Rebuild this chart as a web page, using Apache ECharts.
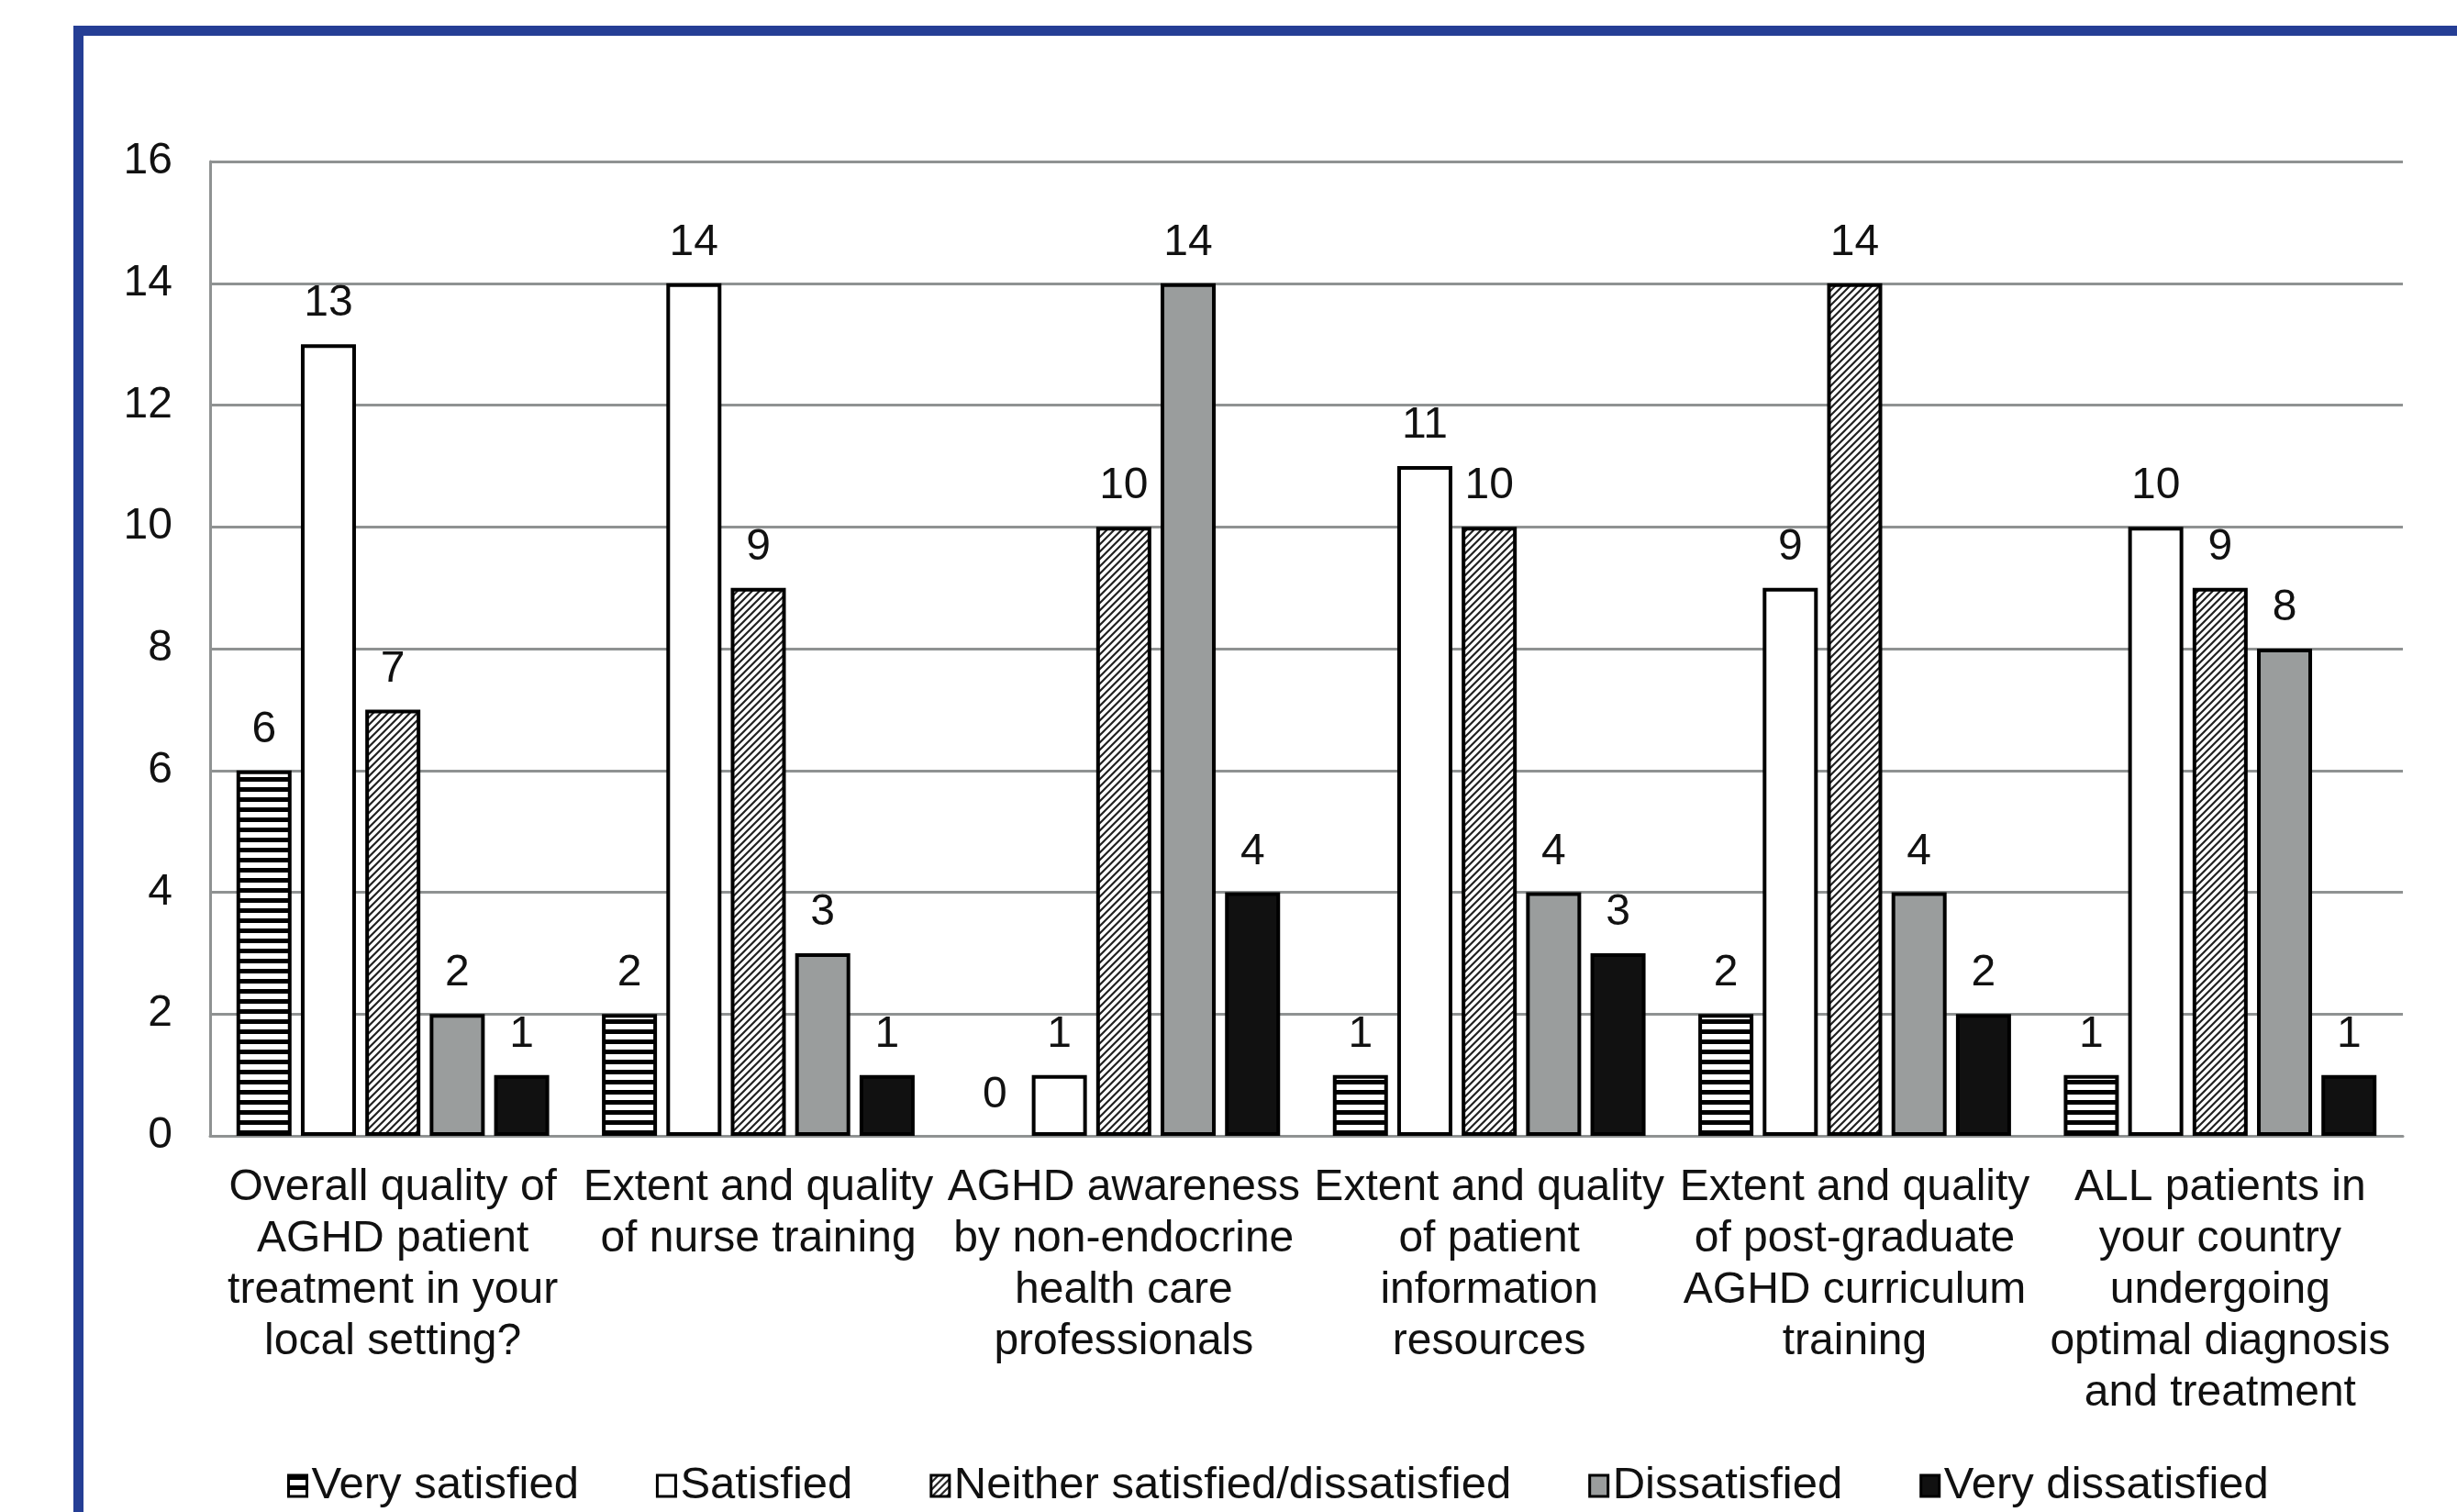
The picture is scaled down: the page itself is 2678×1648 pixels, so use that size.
<!DOCTYPE html>
<html>
<head>
<meta charset="utf-8">
<script src="https://cdn.jsdelivr.net/npm/echarts@6/dist/echarts.min.js"></script>
<style>
  html, body { margin: 0; padding: 0; background: #fff; }
  #chart { width: 2678px; height: 1648px; }
</style>
</head>
<body>
<div id="chart"></div>
<script>
const categories = [
  'Overall quality of\nAGHD patient\ntreatment in your\nlocal setting?',
  'Extent and quality\nof nurse training',
  'AGHD awareness\nby non-endocrine\nhealth care\nprofessionals',
  'Extent and quality\nof patient\ninformation\nresources',
  'Extent and quality\nof post-graduate\nAGHD curriculum\ntraining',
  'ALL patients in\nyour country\nundergoing\noptimal diagnosis\nand treatment'
]
const verySatisfied = [6, 2, 0, 1, 2, 1]
const satisfied = [13, 14, 1, 11, 9, 10]
const neither = [7, 9, 10, 10, 14, 9]
const dissatisfied = [2, 3, 14, 4, 4, 8]
const veryDissatisfied = [1, 1, 4, 3, 2, 1]
const yTicks = [0, 2, 4, 6, 8, 10, 12, 14, 16]

const FONT = '"Liberation Sans", Arial, sans-serif'
const FS = 48

// fill patterns
function stripes() {
  const c = document.createElement('canvas')
  c.width = 12; c.height = 11
  const g = c.getContext('2d')
  g.fillStyle = '#fff'; g.fillRect(0, 0, 12, 11)
  g.fillStyle = '#000'; g.fillRect(0, 0, 12, 5)
  return { image: c, repeat: 'repeat' }
}
function hatch() {
  const c = document.createElement('canvas')
  c.width = 8; c.height = 8
  const g = c.getContext('2d')
  g.fillStyle = '#fff'; g.fillRect(0, 0, 8, 8)
  g.strokeStyle = '#222'; g.lineWidth = 2.2
  g.beginPath()
  g.moveTo(-1, 9); g.lineTo(9, -1)
  g.moveTo(-5, 5); g.lineTo(5, -5)
  g.moveTo(3, 13); g.lineTo(13, 3)
  g.stroke()
  return { image: c, repeat: 'repeat' }
}

function bar(name, data, fill) {
  return {
    name: name,
    type: 'bar',
    // a zero bar has no outline in the original
    data: data.map(v => v === 0 ? { value: v, itemStyle: { borderWidth: 0 } } : v),
    barWidth: 60,
    barGap: '17%',
    itemStyle: { color: fill, borderColor: '#000', borderWidth: 4 },
    label: {
      show: true,
      position: 'top',
      distance: 20,
      fontSize: FS,
      fontFamily: FONT,
      color: '#111'
    }
  }
}

const chart = echarts.init(document.getElementById('chart'))
chart.setOption({
  animation: false,
  backgroundColor: '#fff',
  textStyle: { fontFamily: FONT },
  graphic: [
    { type: 'rect', left: 80, top: 28, shape: { width: 2598, height: 11 }, style: { fill: '#253e95' } },
    { type: 'rect', left: 80, top: 28, shape: { width: 11, height: 1620 }, style: { fill: '#253e95' } }
  ],
  grid: { left: 229, right: 59, top: 176, bottom: 410 },
  legend: {
    left: 308,
    top: 1590,
    icon: 'rect',
    itemWidth: 20,
    itemHeight: 23,
    itemGap: 84,
    textStyle: { fontSize: 49, fontFamily: FONT, color: '#111' },
    itemStyle: { borderWidth: 3 }
  },
  xAxis: {
    type: 'category',
    data: categories,
    axisLine: { lineStyle: { color: '#8f9292', width: 3 } },
    axisTick: { show: false },
    axisLabel: {
      interval: 0,
      margin: 29,
      fontSize: FS,
      lineHeight: 56,
      color: '#111',
      fontFamily: FONT
    }
  },
  yAxis: {
    type: 'value',
    min: yTicks[0],
    max: yTicks[yTicks.length - 1],
    interval: 2,
    axisLine: { show: true, lineStyle: { color: '#8f9292', width: 3 } },
    axisTick: { show: false },
    splitLine: { lineStyle: { color: '#8f9292', width: 3 } },
    axisLabel: { margin: 41, fontSize: FS, color: '#111', fontFamily: FONT }
  },
  series: [
    bar('Very satisfied', verySatisfied, stripes()),
    bar('Satisfied', satisfied, '#fff'),
    bar('Neither satisfied/dissatisfied', neither, hatch()),
    bar('Dissatisfied', dissatisfied, '#9a9d9d'),
    bar('Very dissatisfied', veryDissatisfied, '#111')
  ]
})
</script>
</body>
</html>
